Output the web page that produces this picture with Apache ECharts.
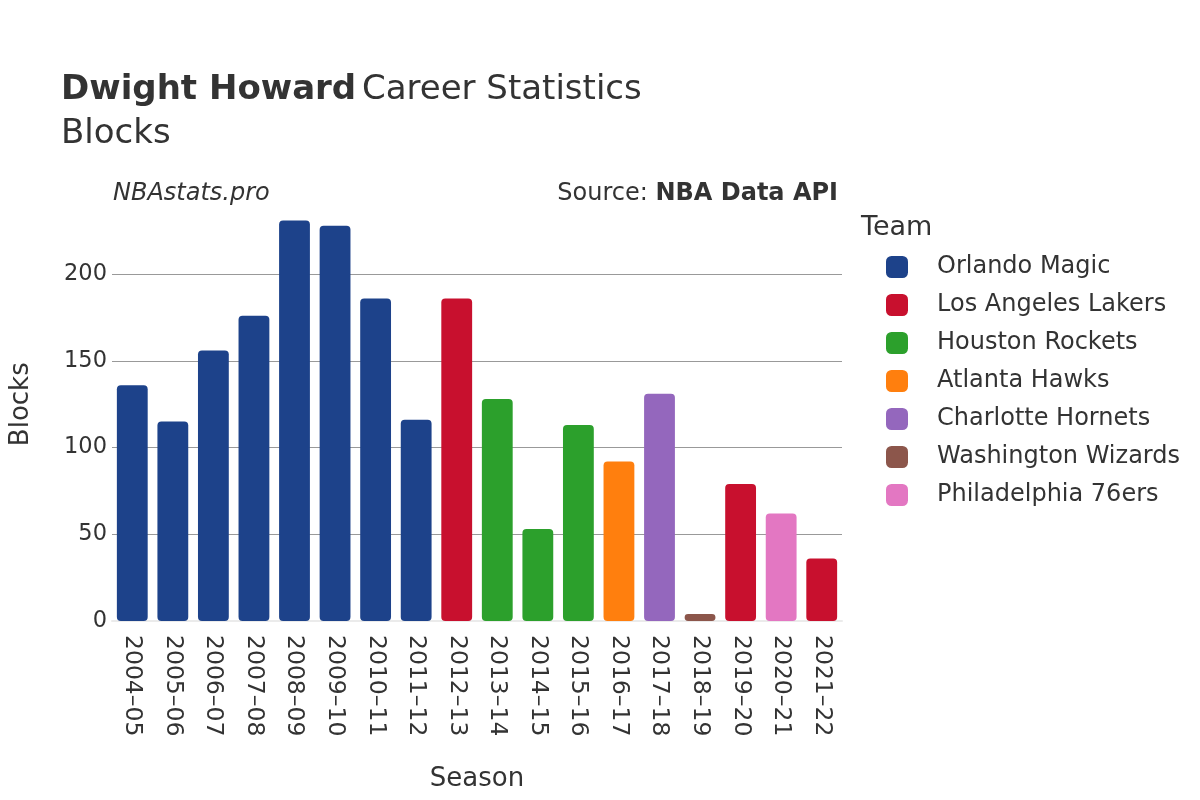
<!DOCTYPE html>
<html><head><meta charset="utf-8">
<script src="https://cdn.jsdelivr.net/npm/echarts@6/dist/echarts.min.js"></script>
<style>html,body{margin:0;padding:0;background:#fff}#c{width:1200px;height:800px}</style>
</head><body><div id="c"></div>
<script>
const seasons = ["2004–05","2005–06","2006–07","2007–08","2008–09","2009–10","2010–11","2011–12","2012–13","2013–14","2014–15","2015–16","2016–17","2017–18","2018–19","2019–20","2020–21","2021–22"];
const teams = ["Orlando Magic","Los Angeles Lakers","Houston Rockets","Atlanta Hawks","Charlotte Hornets","Washington Wizards","Philadelphia 76ers"];
const seasonTeam = ["Orlando Magic","Orlando Magic","Orlando Magic","Orlando Magic","Orlando Magic","Orlando Magic","Orlando Magic","Orlando Magic","Los Angeles Lakers","Houston Rockets","Houston Rockets","Houston Rockets","Atlanta Hawks","Charlotte Hornets","Washington Wizards","Los Angeles Lakers","Philadelphia 76ers","Los Angeles Lakers"];
const blocks = [136,115,156,176,231,228,186,116,186,128,53,113,92,131,4,79,62,36];
const teamColors = ["#1d428a","#c8102e","#2ca02c","#ff7f0e","#9467bd","#8c564b","#e377c2"];
const yTicks = [0,50,100,150,200];

const font = "DejaVu Sans";
const chart = echarts.init(document.getElementById('c'));
const series = teams.map((t,i)=>({
  name:t, type:'bar', stack:'s', barWidth:'76%',
  itemStyle:{color:teamColors[i], borderRadius:4},
  data: blocks.map((v,j)=> seasonTeam[j]===t ? v : null)
}));
chart.setOption({
  animation:false,
  textStyle:{fontFamily:font},
  title:[
    {text:'{b|Dwight Howard} {n|Career Statistics}\n{n|Blocks}', left:61, top:68, padding:0,
     textStyle:{fontWeight:'normal',rich:{b:{fontFamily:font,fontSize:34,fontWeight:'bold',color:'#333',lineHeight:44},n:{fontFamily:font,fontSize:34,fontWeight:'normal',color:'#333',lineHeight:44}}}},
    {text:'NBAstats.pro', left:113, top:182, padding:0, textStyle:{fontFamily:font,fontSize:24,fontStyle:'italic',fontWeight:'normal',color:'#333'}},
    {text:'{n|Source: }{b|NBA Data API}', right:362, top:182, padding:0,
     textStyle:{fontWeight:'normal',rich:{n:{fontFamily:font,fontSize:24,fontWeight:'normal',color:'#333'},b:{fontFamily:font,fontSize:24,fontWeight:'bold',color:'#333'}}}},
    {text:'Team', left:861, top:214, padding:0, textStyle:{fontFamily:font,fontSize:27,fontWeight:'normal',color:'#333'}}
  ],
  legend:{
    orient:'vertical', left:886, top:255, padding:0, itemWidth:22, itemHeight:22, itemGap:14,
    icon:'roundRect', data:teams,
    textStyle:{fontFamily:font,fontSize:24,color:'#333',padding:[0,0,0,24]}
  },
  grid:{left:108, right:358, top:187.5, bottom:179},
  xAxis:{
    type:'category', data:seasons, name:'Season', nameLocation:'middle', nameGap:145,
    nameTextStyle:{fontFamily:font,fontSize:26,color:'#333'},
    axisLine:{show:true,lineStyle:{color:'#ebebeb',width:2}}, axisTick:{show:false},
    axisLabel:{rotate:-90, fontSize:23.5, color:'#333', margin:14, fontFamily:font}
  },
  yAxis:{
    type:'value', min:0, max:250, interval:50, name:'Blocks', nameLocation:'middle', nameGap:78,
    nameTextStyle:{fontFamily:font,fontSize:26,color:'#333'},
    axisLine:{show:false}, axisTick:{show:false},
    axisLabel:{fontSize:22.5,color:'#333',margin:5,fontFamily:font,showMaxLabel:false,
      formatter:v=> yTicks.includes(v)? String(v):''},
    splitLine:{show:true,showMinLine:false,showMaxLine:false,lineStyle:{color:'#999',width:1}}
  },
  series:series
});
</script></body></html>
